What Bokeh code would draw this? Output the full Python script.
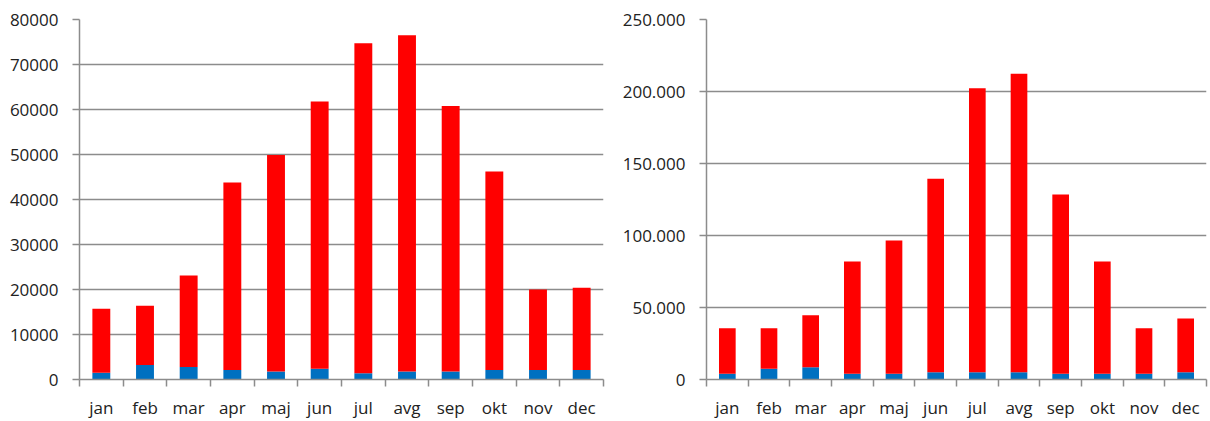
from bokeh.plotting import figure
from bokeh.models import ColumnDataSource, FixedTicker, Range1d
from bokeh.layouts import row
from bokeh.embed import file_html
from bokeh.resources import INLINE

months = ["jan", "feb", "mar", "apr", "maj", "jun", "jul", "avg", "sep", "okt", "nov", "dec"]

# left chart
left_blue = [1500, 3200, 2800, 2100, 1800, 2400, 1400, 1800, 1800, 2100, 2100, 2100]
left_red = [14200, 13200, 20300, 41700, 48100, 59400, 73300, 74700, 59000, 44100, 17900, 18300]
left_ticks = [0, 10000, 20000, 30000, 40000, 50000, 60000, 70000, 80000]
left_tick_labels = ["0", "10000", "20000", "30000", "40000", "50000", "60000", "70000", "80000"]

# right chart
right_blue = [4000, 7400, 8500, 4000, 4000, 5100, 5100, 5100, 4000, 4000, 4000, 5100]
right_red = [31600, 28200, 36200, 78000, 92500, 134300, 197200, 207200, 124500, 78000, 31600, 37300]
right_ticks = [0, 50000, 100000, 150000, 200000, 250000]
right_tick_labels = ["0", "50.000", "100.000", "150.000", "200.000", "250.000"]

BLUE = "#0070C0"
RED = "#FF0000"
GRID = "#8c8c8c"
TEXT = "#222222"
FONT = "Open Sans"


def make(blue, red, ticks, tick_labels, width, left_border, right_border, bar_width):
    n = len(months)
    xs = [i + 0.5 for i in range(n)]
    src = ColumnDataSource(dict(x=xs, blue=blue, red=red))
    p = figure(width=width, height=421, output_backend="svg", toolbar_location=None,
               x_range=Range1d(0, n), y_range=Range1d(ticks[0], ticks[-1]),
               min_border_left=left_border, min_border_right=right_border,
               min_border_top=19, min_border_bottom=41)
    p.vbar_stack(["blue", "red"], x="x", width=bar_width, source=src,
                 color=[BLUE, RED], line_color=None)
    p.outline_line_color = None
    p.background_fill_color = "white"

    # x axis
    p.xaxis.ticker = FixedTicker(ticks=xs, minor_ticks=list(range(n + 1)))
    p.xaxis.major_label_overrides = {x: m for x, m in zip(xs, months)}
    p.xaxis.major_tick_line_color = None
    p.xaxis.major_tick_out = 0
    p.xaxis.major_tick_in = 0
    p.xaxis.minor_tick_line_color = GRID
    p.xaxis.minor_tick_line_width = 1.5
    p.xaxis.minor_tick_out = 7
    p.xaxis.minor_tick_in = 0
    p.xaxis.axis_line_color = GRID
    p.xaxis.axis_line_width = 1.5
    p.xaxis.major_label_standoff = 9
    p.xaxis.major_label_text_font = FONT
    p.xaxis.major_label_text_font_size = "17px"
    p.xaxis.major_label_text_color = TEXT

    # y axis
    p.yaxis.ticker = FixedTicker(ticks=ticks, minor_ticks=[])
    p.yaxis.major_label_overrides = {t: l for t, l in zip(ticks, tick_labels)}
    p.yaxis.major_tick_line_color = GRID
    p.yaxis.major_tick_line_width = 1.5
    p.yaxis.major_tick_out = 7
    p.yaxis.major_tick_in = 0
    p.yaxis.minor_tick_line_color = None
    p.yaxis.axis_line_color = GRID
    p.yaxis.axis_line_width = 1.5
    p.yaxis.major_label_standoff = 14
    p.yaxis.major_label_text_font = FONT
    p.yaxis.major_label_text_font_size = "17px"
    p.yaxis.major_label_text_color = TEXT

    p.xgrid.grid_line_color = None
    p.ygrid.grid_line_color = GRID
    p.ygrid.grid_line_width = 1.5
    return p


p1 = make(left_blue, left_red, left_ticks, left_tick_labels, 610, 79, 7, 0.41)
p2 = make(right_blue, right_red, right_ticks, right_tick_labels, 598, 96, 2, 0.40)

layout = row(p1, p2, spacing=0)
open("out.html", "w").write(file_html(layout, INLINE))
